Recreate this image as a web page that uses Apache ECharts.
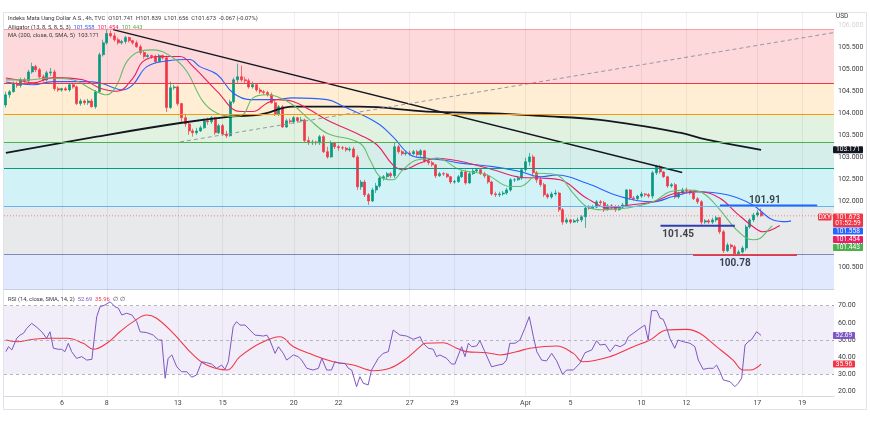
<!DOCTYPE html>
<html>
<head>
<meta charset="utf-8">
<script src="https://cdn.jsdelivr.net/npm/echarts@6/dist/echarts.min.js"></script>
<style>
html, body { margin: 0; padding: 0; background: #fff; }
#chart { width: 870px; height: 426px; }
</style>
</head>
<body>
<div id="chart"></div>
<script>
// time axis: one slot per 4h bar, labels on Mondays / Wednesdays
const barCount = 222
const tickIdx = [15, 27, 46, 58, 77, 89, 108, 120, 139, 151, 170, 182, 201, 213]
const tickText = ['6', '8', '13', '15', '20', '22', '27', '29', 'Apr', '5', '10', '12', '17', '19']

// [open, close, low, high]
const candles = [
  [104.19,104.42,104.13,104.49],[104.42,104.49,104.35,104.53],[104.49,104.67,104.47,104.72],[104.67,104.63,104.58,104.72],
  [104.63,104.76,104.58,104.81],[104.76,104.74,104.69,104.81],[104.74,104.94,104.72,104.99],[104.94,105.06,104.90,105.15],
  [105.06,104.99,104.94,105.10],[104.99,104.83,104.79,105.03],[104.83,104.76,104.72,104.88],[104.76,104.92,104.72,104.97],
  [104.92,104.94,104.85,105.03],[104.94,104.56,104.51,104.99],[104.56,104.53,104.49,104.60],[104.53,104.56,104.49,104.58],
  [104.56,104.53,104.51,104.60],[104.53,104.65,104.49,104.69],[104.65,104.60,104.56,104.69],[104.60,104.22,104.19,104.63],
  [104.22,104.28,104.17,104.33],[104.28,104.24,104.19,104.31],[104.24,104.28,104.19,104.33],[104.28,104.15,104.13,104.33],
  [104.15,104.49,104.10,104.53],[104.49,105.33,104.47,105.38],[105.33,105.60,105.29,105.67],[105.60,105.81,105.56,105.90],
  [105.81,105.76,105.72,105.88],[105.76,105.67,105.63,105.83],[105.67,105.60,105.56,105.72],[105.60,105.63,105.56,105.67],
  [105.63,105.72,105.58,105.76],[105.72,105.65,105.61,105.74],[105.65,105.60,105.56,105.67],[105.60,105.51,105.49,105.65],
  [105.51,105.38,105.33,105.56],[105.38,105.29,105.24,105.42],[105.29,105.31,105.26,105.35],[105.31,105.29,105.24,105.33],
  [105.29,105.17,105.13,105.33],[105.17,105.31,105.15,105.35],[105.31,105.26,105.22,105.33],[105.26,104.13,104.03,105.31],
  [104.13,104.58,104.10,104.72],[104.58,104.60,104.53,104.65],[104.60,104.22,104.17,104.63],[104.22,103.90,103.76,104.24],
  [103.90,103.76,103.69,103.99],[103.76,103.60,103.51,103.81],[103.60,103.56,103.47,103.65],[103.56,103.60,103.51,103.67],
  [103.60,103.67,103.58,103.72],[103.67,103.83,103.65,103.88],[103.83,103.81,103.74,103.90],[103.81,103.90,103.76,103.94],
  [103.90,103.56,103.51,103.92],[103.56,103.72,103.53,103.76],[103.72,103.53,103.49,103.76],[103.53,103.49,103.44,103.60],
  [103.49,104.26,103.47,104.31],[104.26,104.76,104.22,104.81],[104.76,104.83,104.67,105.13],[104.83,104.76,104.72,105.08],
  [104.76,104.74,104.67,104.83],[104.74,104.60,104.56,104.79],[104.60,104.65,104.56,104.72],[104.65,104.53,104.49,104.67],
  [104.53,104.49,104.44,104.58],[104.49,104.47,104.42,104.53],[104.47,104.42,104.38,104.51],[104.42,104.24,104.22,104.47],
  [104.24,103.97,103.94,104.28],[103.97,104.15,103.94,104.19],[104.15,103.69,103.67,104.19],[103.69,103.83,103.67,103.88],
  [103.83,103.81,103.76,103.88],[103.81,103.90,103.76,103.94],[103.90,103.83,103.79,103.92],[103.83,103.85,103.81,103.92],
  [103.85,103.38,103.33,103.88],[103.38,103.33,103.28,103.47],[103.33,103.35,103.28,103.40],[103.35,103.33,103.28,103.38],
  [103.33,103.47,103.28,103.51],[103.47,103.13,103.10,103.51],[103.13,103.01,102.97,103.24],[103.01,103.33,102.99,103.38],
  [103.33,103.24,103.19,103.35],[103.24,103.22,103.15,103.28],[103.22,103.21,103.17,103.26],[103.21,103.17,103.13,103.24],
  [103.17,103.19,103.13,103.24],[103.19,103.01,102.99,103.24],[103.01,102.33,102.26,103.06],[102.33,102.44,102.26,102.49],
  [102.44,102.15,102.10,102.49],[102.15,102.01,101.92,102.19],[102.01,102.26,101.99,102.31],[102.26,102.35,102.19,102.42],
  [102.35,102.53,102.31,102.58],[102.53,102.56,102.47,102.60],[102.56,102.63,102.51,102.67],[102.63,102.58,102.53,102.67],
  [102.58,103.24,102.53,103.35],[103.24,103.13,103.08,103.28],[103.13,103.08,103.04,103.17],[103.08,103.10,103.04,103.15],
  [103.10,103.08,103.04,103.15],[103.08,103.13,103.06,103.17],[103.13,103.06,103.01,103.17],[103.06,103.15,103.01,103.19],
  [103.15,102.92,102.88,103.17],[102.92,102.88,102.83,102.97],[102.88,102.83,102.79,102.92],[102.83,102.58,102.53,102.85],
  [102.58,102.63,102.56,102.67],[102.63,102.62,102.58,102.67],[102.62,102.56,102.53,102.65],[102.56,102.44,102.40,102.58],
  [102.44,102.45,102.40,102.49],[102.45,102.56,102.42,102.60],[102.56,102.67,102.53,102.72],[102.67,102.42,102.38,102.72],
  [102.42,102.63,102.40,102.67],[102.63,102.69,102.60,102.74],[102.69,102.72,102.65,102.76],[102.72,102.63,102.60,102.76],
  [102.63,102.58,102.53,102.67],[102.58,102.44,102.40,102.62],[102.44,102.17,102.13,102.47],[102.17,102.15,102.10,102.22],
  [102.15,102.17,102.10,102.22],[102.17,102.19,102.13,102.24],[102.19,102.26,102.15,102.31],[102.26,102.49,102.22,102.53],
  [102.49,102.49,102.44,102.53],[102.49,102.53,102.47,102.58],[102.53,102.72,102.49,102.76],[102.72,102.90,102.67,102.99],
  [102.90,103.01,102.81,103.10],[103.01,102.65,102.60,103.06],[102.65,102.49,102.42,102.69],[102.49,102.38,102.33,102.56],
  [102.38,102.15,102.10,102.42],[102.15,102.10,102.06,102.19],[102.10,102.17,102.06,102.22],[102.17,102.19,102.13,102.26],
  [102.19,101.81,101.76,102.22],[101.81,101.53,101.47,101.85],[101.53,101.58,101.49,101.63],[101.58,101.53,101.49,101.60],
  [101.53,101.56,101.51,101.60],[101.56,101.58,101.51,101.63],[101.58,101.65,101.53,101.69],[101.65,101.85,101.40,101.90],
  [101.85,101.84,101.81,101.92],[101.84,101.87,101.83,101.92],[101.87,101.99,101.85,102.03],[101.99,101.97,101.92,102.03],
  [101.97,101.81,101.76,102.01],[101.81,101.90,101.79,101.94],[101.90,101.87,101.83,101.94],[101.87,101.81,101.76,101.92],
  [101.81,101.87,101.79,101.92],[101.87,101.92,101.85,101.97],[101.92,102.26,101.90,102.28],[102.26,102.08,102.03,102.28],
  [102.08,102.06,102.01,102.12],[102.06,102.12,102.03,102.15],[102.12,102.17,102.08,102.22],[102.17,102.15,102.10,102.19],
  [102.15,102.12,102.08,102.19],[102.12,102.65,102.06,102.69],[102.65,102.79,102.60,102.83],[102.79,102.67,102.63,102.83],
  [102.67,102.56,102.53,102.69],[102.56,102.35,102.31,102.58],[102.35,102.38,102.31,102.42],[102.38,102.10,102.06,102.42],
  [102.10,102.19,102.06,102.22],[102.19,102.26,102.15,102.31],[102.26,102.24,102.19,102.31],[102.24,102.19,102.15,102.26],
  [102.19,102.06,102.03,102.22],[102.06,101.99,101.94,102.10],[101.99,101.53,101.47,102.03],[101.53,101.56,101.49,101.60],
  [101.56,101.53,101.49,101.60],[101.53,101.58,101.49,101.63],[101.58,101.63,101.53,101.67],[101.63,101.31,101.26,101.65],
  [101.31,100.88,100.83,101.35],[100.88,101.01,100.85,101.06],[101.01,100.97,100.92,101.04],[100.97,100.81,100.78,101.01],
  [100.81,100.85,100.78,100.90],[100.85,100.94,100.81,100.99],[100.94,101.42,100.88,101.47],[101.42,101.58,101.38,101.62],
  [101.58,101.69,101.53,101.74],[101.69,101.74,101.65,101.80],[101.741,101.673,101.656,101.839]
]

// Alligator lines, [bar, price]
const jaw = [[0,104.71],[7.3,104.65],[12.6,104.72],[20.6,104.72],[25.2,104.69],[31.3,104.53],[34,104.65],[37.7,105.06],
  [43.1,105.19],[49.2,105.22],[51.9,105.06],[56.5,104.88],[60.8,104.46],[65.3,104.31],[71.4,104.31],[76.8,104.35],
  [85.9,104.31],[90.2,104.16],[99.3,103.78],[103.5,103.47],[108.1,103.06],[112.6,102.98],[116.9,102.94],[121.5,102.87],
  [130.3,102.79],[137.5,102.68],[142.9,102.56],[147.4,102.60],[155.4,102.41],[164.3,102.11],[173.1,101.99],[178.4,102.11],
  [184.8,102.22],[192.9,102.15],[199.8,101.92],[205.2,101.58],[208.9,101.54],[210,101.558]]
const teeth = [[0,104.80],[3,104.76],[7.3,104.69],[12.6,104.81],[20.6,104.76],[25.2,104.57],[29.7,104.50],[34,104.80],
  [36.7,105.18],[41.2,105.29],[46.6,105.29],[50.1,105.06],[56.5,104.50],[62.6,104.04],[66.1,104.04],[69.8,104.23],
  [72.5,104.31],[76.8,104.27],[81.3,104.08],[85.9,103.85],[94.7,103.51],[99.3,103.28],[103.5,102.83],[106.2,102.72],
  [110.8,102.87],[115.3,102.98],[121.5,102.91],[130.3,102.72],[137.5,102.55],[142.9,102.53],[148.2,102.49],[155.4,102.07],
  [161.6,101.85],[166.9,101.92],[173.1,101.99],[179.5,102.19],[185.6,102.22],[191,102.07],[195.5,101.73],[199.8,101.43],
  [202.5,101.31],[207,101.454]]
const lips = [[0,104.76],[5.7,104.76],[11.8,104.80],[17.9,104.76],[23.3,104.53],[27,104.42],[29.7,104.65],[32.4,105.18],
  [35.9,105.41],[39.4,105.44],[44.7,105.26],[48.4,104.95],[52.7,104.27],[56.5,104.00],[60.8,103.93],[63.4,103.97],
  [66.1,104.35],[69.8,104.42],[72.5,104.38],[76.8,104.19],[81.3,103.85],[85.9,103.55],[94.7,103.32],[97.4,102.94],
  [100.1,102.56],[103.5,102.49],[106.2,102.72],[109.9,102.94],[115.3,102.98],[121.5,102.72],[128.7,102.60],[134.8,102.34],
  [137.5,102.34],[142.9,102.64],[147.4,102.60],[151.7,102.19],[155.4,101.88],[159.7,101.81],[166.1,101.85],[173.1,101.99],
  [177.6,102.22],[182.2,102.26],[186.4,102.19],[191,101.81],[195.5,101.35],[199.8,101.13],[201.7,101.16],[204,101.36],[205,101.443]]
const ma200 = [[0,103.10],[24.3,103.47],[46.6,103.78],[60.7,103.93],[68,103.97],[76.8,104.15],[94.7,104.15],[112.6,104.04],
  [130.3,104.00],[142.9,103.94],[158.9,103.85],[180.3,103.56],[187.5,103.40],[202,103.171]]

// RSI pane, [bar, value]
const rsi = [[0,43.2],[0.7,46.1],[1.6,44.2],[2.9,51.0],[3.8,52.9],[4.7,53.9],[5.6,56.8],[6.9,59.7],[8.3,57.4],[9.6,54.8],
  [10.9,51.0],[11.8,54.8],[12.7,45.2],[14,44.6],[14.9,44.6],[15.8,43.2],[16.7,48.1],[17.6,43.2],[18.9,39.3],[20.3,40.3],
  [21.6,38.3],[23,38.7],[24.3,63.6],[25.2,69.4],[26.5,70.4],[27.9,72.3],[29.2,69.4],[30.1,68.5],[31,64.6],[32.3,65.6],
  [33.7,64.6],[35,60.7],[35.9,54.8],[37.7,54.3],[39.4,52.9],[40.8,50.0],[41.7,50.0],[42.6,27.7],[43.4,39.3],[44.4,41.3],
  [45.7,34.4],[47,31.5],[48.4,31.5],[49.7,28.3],[51,29.6],[52.4,37.3],[53.7,36.8],[55,36.0],[56.4,33.5],[57.7,35.4],
  [58.6,32.9],[59.5,37.3],[60.8,57.8],[61.7,60.7],[62.6,58.7],[64,58.7],[65.3,55.8],[66.6,52.9],[68.9,52.3],[69.8,52.9],
  [70.6,50.0],[72,42.2],[72.9,46.1],[74.2,42.2],[75.1,38.3],[76.9,41.3],[78.2,40.3],[79.1,38.3],[80.5,33.5],[82.2,32.5],
  [83.6,33.5],[84.5,39.3],[85.8,32.5],[87.1,32.5],[88,37.3],[89.4,36.4],[90.7,36.4],[91.6,33.5],[92.5,32.5],[93.8,22.8],
  [94.7,28.6],[95.6,24.8],[96.9,23.8],[97.8,32.5],[99.6,39.3],[100.9,42.2],[102.3,43.2],[103.6,55.8],[105.4,52.9],[107.2,52.3],
  [109,50.4],[110.8,51.9],[111.6,48.1],[113,45.2],[114.3,44.6],[115.2,40.3],[116.1,41.3],[117.9,39.3],[119.2,36.0],[120.1,36.0],
  [121.9,46.1],[122.8,40.3],[123.7,48.1],[124.6,46.1],[125.9,46.5],[126.8,49.6],[128.1,43.2],[129.9,34.4],[131.7,35.4],[133,36.0],
  [133.9,38.3],[134.8,48.1],[136.2,48.1],[137.5,50.0],[138.8,56.8],[140,63.6],[141.1,51.9],[142,43.2],[143.3,38.3],[144.6,37.8],
  [146,42.2],[147.3,37.9],[148.9,30.0],[150,32.5],[151.8,32.5],[153.5,36.4],[154.9,42.6],[156.7,44.2],[158,49.6],[158.9,47.1],
  [160.3,47.5],[161.6,43.2],[163,47.1],[164.3,46.1],[165.6,47.7],[166.5,51.9],[167.8,53.9],[169.6,56.8],[170.9,58.7],[171.8,50.0],
  [172.7,67.1],[174.1,67.1],[175,62.7],[175.8,62.1],[176.7,57.4],[177.6,51.0],[178.9,45.2],[179.8,50.0],[181.2,49.0],[183,48.1],
  [184.3,46.1],[185.2,38.3],[186.5,32.9],[187.9,33.5],[189.2,33.5],[190.1,35.4],[191,31.5],[191.9,26.7],[193.7,25.7],[195,22.8],
  [195.9,24.8],[196.8,27.7],[197.7,47.1],[198.6,49.0],[199.5,50.4],[200.8,54.8],[202,52.69]]
const rsiMa = [[0,50.0],[2.9,49.0],[7.3,50.4],[11.8,51.0],[16.3,51.0],[20.7,48.1],[23.4,44.6],[27,48.1],[30.5,54.8],[34.1,60.7],
  [37.7,64.6],[40.3,62.7],[44.8,53.9],[50.1,41.3],[53.7,35.4],[59.1,32.5],[62.6,40.3],[68,48.1],[73.3,51.9],[76.9,46.1],
  [82.2,41.3],[87.6,37.3],[92.9,35.4],[98.3,32.1],[102.7,33.5],[107.2,39.3],[110.8,46.1],[112.1,48.1],[117,48.4],[120.6,45.2],
  [123.2,43.2],[128.6,42.6],[132.2,41.3],[136.6,43.2],[140.2,45.2],[147.3,46.5],[151.8,42.2],[154.4,37.3],[161.6,40.3],[167.8,46.1],
  [172.3,50.0],[176.7,55.8],[182.1,56.2],[185.6,53.9],[190.1,46.1],[194.5,38.3],[197.2,32.5],[199.1,32.5],[202,35.96]]

// drawings
const fibLevels = [105.898, 104.686, 103.966, 103.345, 102.755, 101.89, 100.807, 100.0]
const fibFill = ['rgba(242,54,69,0.19)', 'rgba(255,152,0,0.17)', 'rgba(76,175,80,0.17)', 'rgba(8,153,129,0.17)',
  'rgba(0,188,212,0.18)', 'rgba(120,123,134,0.17)', 'rgba(41,98,255,0.14)']
const fibLine = ['rgba(242,54,69,0.45)', '#f23645', '#ff9800', '#4caf50', '#089981', '#64b5f6', '#7e8ab8']
const trendLine = [[28.7, 105.90], [180.9, 102.655]]
const fibDiagonal = [[46.6, 103.35], [221.3, 105.83]]
const level101_91 = [[191, 101.91], [217, 101.91]]
const level101_45 = [[175.1, 101.45], [195, 101.45]]
const level100_78 = [[183.8, 100.78], [211.6, 100.78]]
const levelNotes = [[203, 102.03, '101.91'], [179.8, 101.255, '101.45'], [195, 100.59, '100.78']]
const lastClose = 101.673

const FONT = 'Roboto, "Noto Sans", sans-serif'
const UP = '#089981'
const DOWN = '#f23645'

const labelMap = {}
tickIdx.forEach((i, k) => { labelMap[i] = tickText[k] })
const cats = Array.from({ length: barCount }, (_, i) => String(i))

const chart = echarts.init(document.getElementById('chart'), null, { renderer: 'canvas' })

const lineSeries = (name, data, color, width, extra) => Object.assign({
  name, type: 'line', xAxisIndex: 2, yAxisIndex: 0, data,
  showSymbol: false, symbol: 'none', silent: true,
  lineStyle: { color, width }, z: 4,
}, extra || {})

const vGrid = (xi, yi) => ({
  type: 'line', xAxisIndex: xi, yAxisIndex: yi, data: [[0, yi === 0 ? 103 : 50]],
  symbol: 'none', lineStyle: { width: 0 }, silent: true,
  markLine: {
    silent: true, symbol: 'none', label: { show: false },
    lineStyle: { color: 'rgba(0,0,0,0.06)', type: 'solid', width: 1 },
    data: tickIdx.map(i => ({ xAxis: i })),
  },
})

const option = {
  animation: false,
  backgroundColor: '#fff',
  textStyle: { fontFamily: FONT },
  grid: [
    { left: 4, width: 830, top: 12, height: 277.5 },
    { left: 4, width: 830, top: 288.55, height: 107.2 },
  ],
  xAxis: [
    { type: 'category', gridIndex: 0, data: cats, axisLine: { lineStyle: { color: '#d6d8de' } },
      axisTick: { show: false }, axisLabel: { show: false }, splitLine: { show: false } },
    { type: 'category', gridIndex: 1, data: cats, axisLine: { lineStyle: { color: '#d6d8de' } },
      axisTick: { show: false }, splitLine: { show: false },
      axisLabel: { interval: idx => labelMap[idx] !== undefined, formatter: (v, idx) => labelMap[idx] || '',
        fontSize: 7, color: '#444', margin: 4, fontFamily: FONT } },
    { type: 'value', gridIndex: 0, min: -0.5, max: barCount - 0.5, show: false },
    { type: 'value', gridIndex: 1, min: -0.5, max: barCount - 0.5, show: false },
  ],
  yAxis: [
    { type: 'value', gridIndex: 0, position: 'right', min: 100, max: 106.3, interval: 0.5,
      axisLine: { show: false }, axisTick: { show: false }, splitLine: { show: false },
      axisLabel: { fontSize: 7, margin: 4, fontFamily: FONT,
        color: v => (Math.abs(v - 106) < 1e-6 ? '#d4d4d4' : '#3a3a3a'),
        formatter: v => (v > 100.2 && v < 106.1 ? v.toFixed(3) : '') } },
    { type: 'value', gridIndex: 1, position: 'right', min: 17.5, max: 80, interval: 2.5,
      axisLine: { show: false }, axisTick: { show: false }, splitLine: { show: false },
      axisLabel: { fontSize: 7, margin: 4, color: '#3a3a3a', fontFamily: FONT,
        formatter: v => (Math.abs(v % 10) < 1e-6 && v >= 20 && v <= 70 ? v.toFixed(2) : '') } },
  ],
  series: [
    // fib bands
    {
      type: 'line', xAxisIndex: 2, yAxisIndex: 0, data: [[0, 103]], symbol: 'none',
      lineStyle: { width: 0 }, silent: true,
      markArea: {
        silent: true,
        data: fibFill.map((c, k) => [{ yAxis: fibLevels[k], itemStyle: { color: c } }, { yAxis: fibLevels[k + 1] }]),
      },
      markLine: {
        silent: true, symbol: 'none', label: { show: false },
        data: fibLine.map((c, k) => ({ yAxis: fibLevels[k], lineStyle: { color: c, width: 1, type: 'solid' } })),
      },
    },
    vGrid(2, 0),
    vGrid(3, 1),
    // RSI background band + guides
    {
      type: 'line', xAxisIndex: 3, yAxisIndex: 1, data: [[0, 50]], symbol: 'none',
      lineStyle: { width: 0 }, silent: true,
      markArea: { silent: true, data: [[{ yAxis: 70, itemStyle: { color: 'rgba(126,87,194,0.1)' } }, { yAxis: 30 }]] },
      markLine: {
        silent: true, symbol: 'none', label: { show: false },
        lineStyle: { color: '#a3a6b0', type: [3, 3], width: 0.8 },
        data: [{ yAxis: 70 }, { yAxis: 50 }, { yAxis: 30 }],
      },
    },
    {
      type: 'candlestick', xAxisIndex: 0, yAxisIndex: 0, data: candles, barWidth: 2.5, z: 3, silent: true,
      itemStyle: { color: UP, color0: DOWN, borderColor: UP, borderColor0: DOWN, borderWidth: 0.7 },
    },
    lineSeries('ma200', ma200, '#131722', 1.8, { smooth: 0.4 }),
    lineSeries('jaw', jaw, '#2962ff', 1.1, { smooth: 0.4 }),
    lineSeries('teeth', teeth, '#e91e63', 1.1, { smooth: 0.4 }),
    lineSeries('lips', lips, '#66bb6a', 1.1, { smooth: 0.4 }),
    lineSeries('trend', trendLine, '#131722', 1.5),
    lineSeries('fibDiag', fibDiagonal, '#9598a1', 1, { lineStyle: { color: '#9598a1', width: 1, type: [4, 3] } }),
    lineSeries('last', [[-0.5, lastClose], [barCount - 0.5, lastClose]], DOWN, 1,
      { lineStyle: { color: 'rgba(242,54,69,0.55)', width: 1, type: [1, 2] }, z: 2 }),
    lineSeries('l101_91', level101_91, '#2962ff', 1.6, { z: 7 }),
    lineSeries('l101_45', level101_45, '#2f3fb0', 2, { z: 7 }),
    lineSeries('l100_78', level100_78, '#e53945', 1.6, { z: 7 }),
    {
      type: 'scatter', xAxisIndex: 2, yAxisIndex: 0, symbolSize: 0, silent: true, z: 8,
      data: levelNotes.map(n => ({ value: [n[0], n[1]], name: n[2] })),
      label: { show: true, position: 'inside', formatter: p => p.name, fontSize: 10, fontWeight: 'bold',
        color: '#131722', fontFamily: FONT },
    },
    { type: 'line', xAxisIndex: 3, yAxisIndex: 1, data: rsiMa, symbol: 'none', silent: true,
      lineStyle: { color: '#f23645', width: 1.1 }, smooth: 0.4, z: 4 },
    { type: 'line', xAxisIndex: 3, yAxisIndex: 1, data: rsi, symbol: 'none', silent: true,
      lineStyle: { color: '#7e57c2', width: 1 }, z: 5 },
  ],
}

chart.setOption(option)

// right-axis value tags and header texts
const py = v => chart.convertToPixel({ yAxisIndex: 0 }, v)
const ry = v => chart.convertToPixel({ yAxisIndex: 1 }, v)
const tagFont = '6.6px ' + FONT
function tag(x, cy, w, h, text, bg) {
  return [
    { type: 'rect', z: 100, shape: { x, y: cy - h / 2, width: w, height: h, r: 1 }, style: { fill: bg } },
    { type: 'text', z: 101, x: x + w / 2, y: cy, style: { text, fill: '#fff', font: tagFont, align: 'center', verticalAlign: 'middle' } },
  ]
}
const yLast = py(lastClose) + 1.3
const g = []
g.push(...tag(833, py(103.171), 30, 7, '103.171', '#131722'))
g.push({ type: 'rect', z: 100, shape: { x: 833, y: yLast - 3.6, width: 30, height: 13.6, r: 1 }, style: { fill: DOWN } })
g.push({ type: 'text', z: 101, x: 848, y: yLast, style: { text: '101.673', fill: '#fff', font: tagFont, align: 'center', verticalAlign: 'middle' } })
g.push({ type: 'text', z: 101, x: 848, y: yLast + 6.6, style: { text: '01:52:59', fill: '#fff', font: tagFont, align: 'center', verticalAlign: 'middle' } })
g.push(...tag(818, yLast, 13.5, 7, 'DXY', DOWN))
g.push(...tag(833, yLast + 14, 30, 7, '101.558', '#2962ff'))
g.push(...tag(833, yLast + 22.4, 30, 7, '101.454', '#e91e63'))
g.push(...tag(833, yLast + 30.5, 30, 7, '101.443', '#4caf50'))
g.push(...tag(833, ry(52.69), 22, 7, '52.69', '#7e57c2'))
g.push(...tag(833, ry(35.96), 22, 7, '35.96', DOWN))

const hFont = '5.8px ' + FONT
g.push({ type: 'text', z: 100, x: 836, y: 16, style: { text: 'USD', fill: '#3a3a3a', font: '6.5px ' + FONT, verticalAlign: 'middle' } })
g.push({ type: 'text', z: 100, x: 8, y: 19, style: {
  text: 'Indeks Mata Uang Dollar A.S., 4h, TVC  O101.741  H101.839  L101.656  C101.673  -0.067 (-0.07%)',
  fill: '#3a3a3a', font: hFont, verticalAlign: 'middle' } })
g.push({ type: 'text', z: 100, x: 8, y: 27.3, style: {
  text: '{t|Alligator (13, 8, 5, 8, 5, 3)}  {b|101.558}  {r|101.454}  {g|101.443}',
  font: hFont, verticalAlign: 'middle',
  rich: { t: { fill: '#3a3a3a', font: hFont }, b: { fill: '#2962ff', font: hFont }, r: { fill: '#e91e63', font: hFont }, g: { fill: '#4caf50', font: hFont } } } })
g.push({ type: 'text', z: 100, x: 8, y: 35.6, style: {
  text: 'MA (200, close, 0, SMA, 5)  103.171', fill: '#3a3a3a', font: hFont, verticalAlign: 'middle' } })
g.push({ type: 'text', z: 100, x: 8, y: 300, style: {
  text: '{t|RSI (14, close, SMA, 14, 2)}  {p|52.69}  {r|35.96}  {t|\u2205  \u2205}',
  font: hFont, verticalAlign: 'middle',
  rich: { t: { fill: '#3a3a3a', font: hFont }, p: { fill: '#7e57c2', font: hFont }, r: { fill: DOWN, font: hFont } } } })
g.push({ type: 'rect', z: 0, shape: { x: 3.5, y: 12.5, width: 863, height: 397 }, style: { fill: 'none', stroke: '#e0e3eb', lineWidth: 1 } })

chart.setOption({ graphic: g })
</script>
</body>
</html>
